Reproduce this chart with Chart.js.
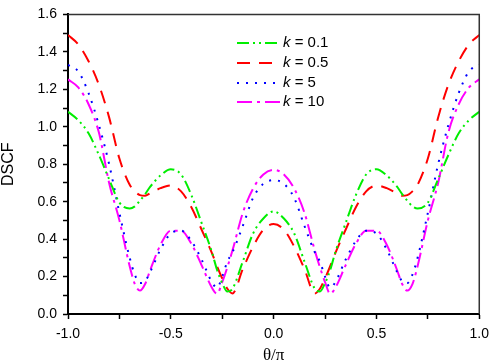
<!DOCTYPE html>
<html>
<head>
<meta charset="utf-8">
<script src="https://cdn.jsdelivr.net/npm/chart.js@4.4.0/dist/chart.umd.min.js"></script>
<style>
html, body { margin: 0; padding: 0; background: #fff; }
</style>
</head>
<body>
<canvas id="dscfChart" width="496" height="364"></canvas>
<script>
// theta / pi sample positions
var thetas = [
    -1, -0.95, -0.9, -0.85, -0.8, -0.75, -0.7, -0.675, -0.65, -0.625, -0.6, -0.55, -0.5,
    -0.45, -0.4, -0.35, -0.3, -0.275, -0.25, -0.225, -0.2, -0.15, -0.1, -0.05, 0,
    0.05, 0.1, 0.15, 0.2, 0.225, 0.25, 0.275, 0.3, 0.35, 0.4, 0.45,
    0.5, 0.55, 0.6, 0.625, 0.65, 0.675, 0.7, 0.75, 0.8, 0.85, 0.9, 0.95, 1
];

var dscfK01 = [
    1.08, 1.035, 0.965, 0.85, 0.72, 0.595, 0.563, 0.575, 0.605, 0.64, 0.68, 0.74, 0.773,
    0.745, 0.635, 0.485, 0.33, 0.235, 0.165, 0.12, 0.135, 0.28, 0.43, 0.51, 0.548,
    0.51, 0.43, 0.28, 0.135, 0.12, 0.165, 0.235, 0.33, 0.485, 0.635, 0.745,
    0.773, 0.74, 0.68, 0.64, 0.605, 0.575, 0.563, 0.595, 0.72, 0.85, 0.965, 1.035, 1.08
];
var dscfK05 = [
    1.49, 1.44, 1.35, 1.225, 1.05, 0.83, 0.69, 0.655, 0.635, 0.632, 0.645, 0.672, 0.686,
    0.655, 0.57, 0.45, 0.325, 0.255, 0.19, 0.135, 0.11, 0.24, 0.36, 0.45, 0.48,
    0.45, 0.36, 0.24, 0.11, 0.135, 0.19, 0.255, 0.325, 0.45, 0.57, 0.655,
    0.686, 0.672, 0.645, 0.632, 0.635, 0.655, 0.69, 0.83, 1.05, 1.225, 1.35, 1.44, 1.49
];
var dscfK5 = [
    1.33, 1.295, 1.18, 1.01, 0.80, 0.54, 0.30, 0.21, 0.165, 0.175, 0.225, 0.345, 0.43,
    0.445, 0.39, 0.29, 0.17, 0.14, 0.2, 0.28, 0.33, 0.47, 0.62, 0.695, 0.715,
    0.695, 0.62, 0.47, 0.33, 0.28, 0.2, 0.14, 0.17, 0.29, 0.39, 0.445,
    0.43, 0.345, 0.225, 0.175, 0.165, 0.21, 0.30, 0.54, 0.80, 1.01, 1.18, 1.295, 1.33
];
var dscfK10 = [
    1.253, 1.21, 1.12, 0.97, 0.70, 0.50, 0.255, 0.16, 0.125, 0.16, 0.235, 0.37, 0.445,
    0.445, 0.375, 0.26, 0.14, 0.108, 0.17, 0.25, 0.34, 0.54, 0.67, 0.745, 0.77,
    0.745, 0.67, 0.54, 0.34, 0.25, 0.17, 0.108, 0.14, 0.26, 0.375, 0.445,
    0.445, 0.37, 0.235, 0.16, 0.125, 0.16, 0.255, 0.50, 0.70, 0.97, 1.12, 1.21, 1.253
];

var kLabels = ["0.1", "0.5", "5", "10"];
var seriesColors = ["#00ee00", "#ff0000", "#0000ff", "#ff00ff"];
var seriesDashes = [[12, 4, 2, 4, 2, 4], [13, 9], [2, 7], [15, 5, 3, 5]];

function toPoints(vals) {
    return thetas.map(function (t, i) { return { x: t, y: vals[i] }; });
}

var allSeries = [dscfK01, dscfK05, dscfK5, dscfK10];

var datasets = allSeries.map(function (vals, i) {
    return {
        label: "k = " + kLabels[i],
        data: toPoints(vals),
        borderColor: seriesColors[i],
        borderDash: seriesDashes[i],
        borderWidth: 2,
        pointRadius: 0,
        fill: false,
        cubicInterpolationMode: "monotone"
    };
});

// legend + frame drawn by hand so the k can be italic
var legendAndFrame = {
    id: "legendAndFrame",
    afterDraw: function (chart) {
        var c = chart.ctx;
        var a = chart.chartArea;
        c.save();
        c.strokeStyle = "#333";
        c.lineWidth = 1.5;
        c.beginPath();
        c.moveTo(a.left, a.top);
        c.lineTo(a.right, a.top);
        c.lineTo(a.right, a.bottom);
        c.stroke();

        var rowY = [43, 63, 83, 102];
        for (var i = 0; i < kLabels.length; i++) {
            var y = rowY[i];
            c.strokeStyle = seriesColors[i];
            c.lineWidth = 2;
            c.setLineDash(seriesDashes[i]);
            c.beginPath();
            c.moveTo(237, y);
            c.lineTo(281, y);
            c.stroke();
            c.setLineDash([]);

            c.fillStyle = "#000";
            c.textBaseline = "middle";
            c.font = "italic 15px 'Liberation Sans'";
            c.fillText("k", 283, y);
            var kw = c.measureText("k").width;
            c.font = "15px 'Liberation Sans'";
            c.fillText(" = " + kLabels[i], 283 + kw, y);
        }
        c.restore();
    }
};

var ctx = document.getElementById("dscfChart");
var dscfChart = new Chart(ctx, {
    type: "line",
    data: { datasets: datasets },
    options: {
        responsive: false,
        animation: false,
        layout: { padding: { top: 9, right: 12, left: 0, bottom: 0 } },
        plugins: {
            legend: { display: false },
            tooltip: { enabled: false }
        },
        scales: {
            x: {
                type: "linear",
                min: -1,
                max: 1,
                afterFit: function (s) { s.height = 50; },
                border: { color: "#000", width: 2 },
                grid: { drawOnChartArea: false, tickLength: 5, color: "#000", tickWidth: 1.5 },
                ticks: {
                    stepSize: 0.25,
                    autoSkip: false,
                    maxRotation: 0,
                    padding: 7,
                    color: "#000",
                    font: { family: "'Liberation Sans'", size: 14 },
                    callback: function (v) {
                        return Math.abs(Math.round(v * 4)) % 2 === 0 ? v.toFixed(1) : "";
                    }
                },
                title: {
                    display: true,
                    text: "θ/π",
                    color: "#000",
                    padding: 0,
                    font: { family: "'Liberation Serif'", size: 17, lineHeight: 1.0 }
                }
            },
            y: {
                min: 0,
                max: 1.6,
                afterFit: function (s) { s.width = 68; },
                border: { color: "#000", width: 2 },
                grid: { drawOnChartArea: false, tickLength: 5, color: "#000", tickWidth: 1.5 },
                ticks: {
                    stepSize: 0.1,
                    autoSkip: false,
                    padding: 6,
                    color: "#000",
                    font: { family: "'Liberation Sans'", size: 14 },
                    callback: function (v) {
                        return Math.round(v * 10) % 2 === 0 ? v.toFixed(1) : "";
                    }
                },
                title: {
                    display: true,
                    text: "DSCF",
                    color: "#000",
                    padding: 0,
                    font: { family: "'Liberation Sans'", size: 16, lineHeight: 1.1 }
                }
            }
        }
    },
    plugins: [legendAndFrame]
});
</script>
</body>
</html>
